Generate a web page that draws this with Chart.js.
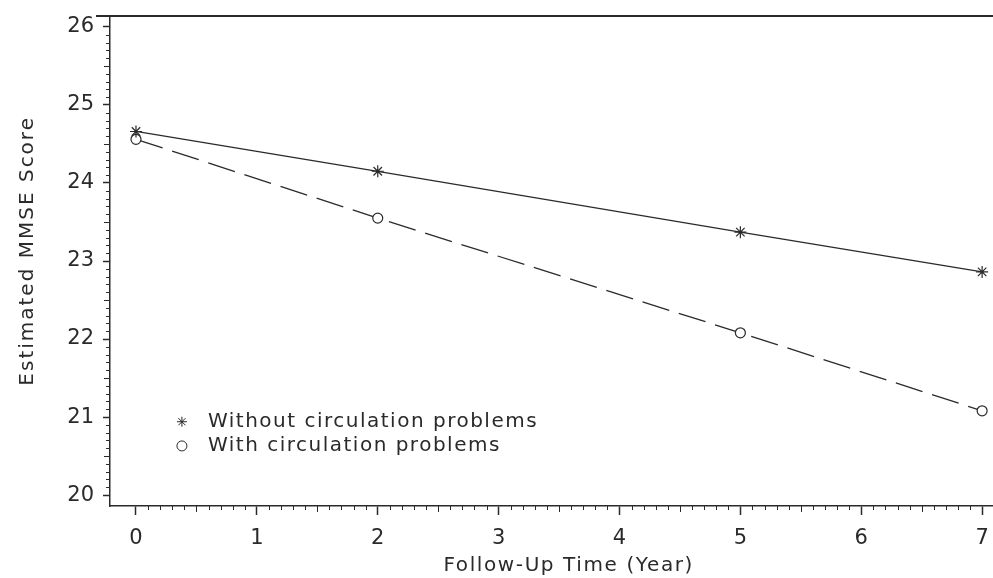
<!DOCTYPE html>
<html>
<head>
<meta charset="utf-8">
<script src="https://cdn.jsdelivr.net/npm/chart.js@4.4.0/dist/chart.umd.min.js"></script>
<style>
  html, body { margin: 0; padding: 0; background: #fff; overflow: hidden; }
  #mmseChart { display: block; }
</style>
</head>
<body>
<canvas id="mmseChart" width="993" height="578"></canvas>
<script>
// =====================
// Data
// =====================
const years = [0, 2, 5, 7];
const withoutProblems = [24.66, 24.15, 23.37, 22.86];
const withProblems = [24.56, 23.55, 22.08, 21.08];
const xTicks = [0, 1, 2, 3, 4, 5, 6, 7];
const yTicks = [20, 21, 22, 23, 24, 25, 26];
const xTitle = 'Follow-Up Time (Year)';
const yTitle = 'Estimated MMSE Score';

const FONT = "'DejaVu Sans', sans-serif";
const INK = '#2a2a2a';

// =====================
// Plugin: plot runs to the right edge of the canvas
// =====================
const fullWidthPlugin = {
  id: 'fullWidth',
  afterLayout(chart) {
    const xs = chart.scales.x;
    const r = chart.width;
    xs.right = r;
    xs.width = r - xs.left;
    chart.chartArea.right = r;
    chart.chartArea.width = r - chart.chartArea.left;
    xs.configure();
  }
};

// =====================
// Plugin: frame, minor ticks, axis titles, inset legend
// =====================
const framePlugin = {
  id: 'frame',
  afterDraw(chart) {
    const { ctx, chartArea } = chart;
    const xs = chart.scales.x, ys = chart.scales.y;
    ctx.save();
    ctx.strokeStyle = INK;

    // top border, a bit wider than the plot
    ctx.lineWidth = 2;
    ctx.beginPath();
    ctx.moveTo(chartArea.left - 14, chartArea.top);
    ctx.lineTo(chart.width, chartArea.top);
    ctx.stroke();

    // minor ticks every 0.1
    ctx.lineWidth = 1;
    ctx.beginPath();
    for (let i = 0; i <= 70; i++) {
      if (i % 10 === 0) continue;
      const px = Math.round(xs.getPixelForValue(i / 10)) + 0.5;
      ctx.moveTo(px, chartArea.bottom);
      ctx.lineTo(px, chartArea.bottom + (i % 5 === 0 ? 6 : 4));
    }
    for (let i = 200; i <= 260; i++) {
      if (i % 10 === 0) continue;
      const py = Math.round(ys.getPixelForValue(i / 10)) + 0.5;
      ctx.moveTo(chartArea.left, py);
      ctx.lineTo(chartArea.left - (i % 5 === 0 ? 6 : 4), py);
    }
    ctx.stroke();

    // axis titles
    ctx.fillStyle = INK;
    ctx.font = '20px ' + FONT;
    ctx.letterSpacing = '1.6px';
    ctx.textAlign = 'center';
    ctx.textBaseline = 'middle';
    ctx.fillText(xTitle, xs.getPixelForValue(3.58), 566);
    ctx.save();
    ctx.translate(28, ys.getPixelForValue(23.13));
    ctx.rotate(-Math.PI / 2);
    ctx.letterSpacing = '2px';
    ctx.fillText(yTitle, 0, 0);
    ctx.restore();

    // inset legend
    const x0 = xs.getPixelForValue(0.38);
    chart.data.datasets.forEach((ds, i) => {
      const cy = ys.getPixelForValue(i === 0 ? 20.94 : 20.63);
      ctx.fillStyle = '#fff';
      ctx.strokeStyle = INK;
      Chart.helpers.drawPoint(ctx, {
        pointStyle: ds.pointStyle, radius: 5, borderWidth: 1.1, rotation: 0
      }, x0, cy);
      ctx.fillStyle = INK;
      ctx.font = '20px ' + FONT;
      ctx.letterSpacing = '1.5px';
      ctx.textAlign = 'left';
      ctx.textBaseline = 'middle';
      ctx.fillText(ds.label, x0 + 26, cy);
    });
    ctx.restore();
  }
};

// =====================
// Chart
// =====================
const ctx = document.getElementById('mmseChart').getContext('2d');
new Chart(ctx, {
  type: 'line',
  data: {
    datasets: [
      {
        label: 'Without circulation problems',
        data: years.map((x, i) => ({ x, y: withoutProblems[i] })),
        borderColor: INK,
        borderWidth: 1.3,
        pointStyle: 'star',
        pointRadius: 6,
        pointBorderColor: INK,
        pointBorderWidth: 1.2,
        tension: 0
      },
      {
        label: 'With circulation problems',
        data: years.map((x, i) => ({ x, y: withProblems[i] })),
        borderColor: INK,
        borderWidth: 1.3,
        borderDash: [28, 10],
        pointStyle: 'circle',
        pointRadius: 5,
        pointBackgroundColor: '#fff',
        pointBorderColor: INK,
        pointBorderWidth: 1.2,
        tension: 0
      }
    ]
  },
  options: {
    responsive: false,
    animation: false,
    devicePixelRatio: 1,
    layout: { padding: { top: 16, right: 0, left: 0, bottom: 0 } },
    plugins: {
      legend: { display: false },
      tooltip: { enabled: false }
    },
    scales: {
      x: {
        type: 'linear',
        min: -0.215,
        max: 7.09,
        afterBuildTicks: (s) => { s.ticks = xTicks.map(v => ({ value: v })); },
        afterFit: (s) => { s.height = 72; s.paddingLeft = 0; s.paddingRight = 0; },
        border: { display: true, color: INK, width: 1.5 },
        grid: { drawOnChartArea: false, tickLength: 9, tickWidth: 1.5, tickColor: INK },
        ticks: { color: INK, font: { family: FONT, size: 21 }, padding: 11, maxRotation: 0 }
      },
      y: {
        type: 'linear',
        min: 19.86,
        max: 26.14,
        afterBuildTicks: (s) => { s.ticks = yTicks.map(v => ({ value: v })); },
        afterFit: (s) => { s.width = 110; s.paddingTop = 0; s.paddingBottom = 0; },
        border: { display: true, color: INK, width: 1.5 },
        grid: { drawOnChartArea: false, tickLength: 7, tickWidth: 1.5, tickColor: INK },
        ticks: { color: INK, font: { family: FONT, size: 21 }, padding: 9 }
      }
    }
  },
  plugins: [fullWidthPlugin, framePlugin]
});
</script>
</body>
</html>
